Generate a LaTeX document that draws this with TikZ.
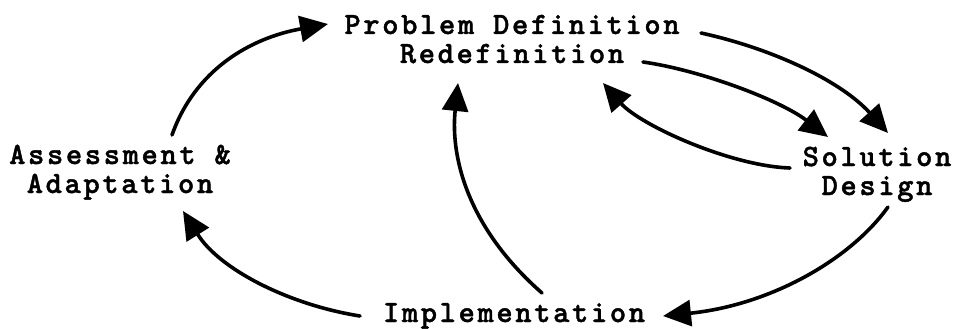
\documentclass[tikz,border=0pt]{standalone}
\usepackage{fontspec}
\usetikzlibrary{arrows.meta,calc}
\newfontfamily\courlike{lmmonolt10-bold.otf}[LetterSpace=8.5,FakeBold=1.4]
\tikzset{
  lbl/.style={align=center, inner sep=0pt, anchor=base,
    font=\fontsize{31}{29}\selectfont\courlike},
  conn/.style={line width=3.6pt, line cap=round,
    -{Triangle[length=28pt,width=26pt]}}
}
\begin{document}
\begin{tikzpicture}[x=1pt,y=-1pt]
\useasboundingbox (0,0) rectangle (958,329);
% base anchor = baseline of the last line
\node[lbl] (pd) at (512,63) {Problem Definition\\Redefinition};
\node[lbl] (aa) at (120,193) {Assessment \&\\Adaptation};
\node[lbl] (sd) at (877,195) {Solution\\Design};
\node[lbl] (im) at (514,322) {Implementation};
% Assessment -> Problem
\draw[conn] ($(aa.base)+(52,-58)$) .. controls +(23,-65) and +(-78,14) .. ($(pd.base)+(-184,-39)$);
% Problem Definition -> Solution
\draw[conn] ($(pd.base)+(189,-30)$) .. controls +(69,15) and +(-48,-53) .. ($(sd.base)+(11,-62)$);
% Redefinition -> Solution
\draw[conn] ($(pd.base)+(131,-1)$) .. controls +(57,8) and +(-48,-37) .. ($(sd.base)+(-49,-58)$);
% Solution -> Redefinition
\draw[conn] ($(sd.base)+(-87,-27)$) .. controls +(-60,-2) and +(37,42) .. ($(pd.base)+(91,20)$);
% Design -> Implementation
\draw[conn] ($(sd.base)+(11,12)$) .. controls +(-38,53) and +(107,-11) .. ($(im.base)+(149,-6)$);
% Implementation -> Redefinition
\draw[conn] ($(im.base)+(28,-29)$) .. controls +(-72,-63) and +(-8,77) .. ($(pd.base)+(-54,20)$);
% Implementation -> Adaptation
\draw[conn] ($(im.base)+(-154,-6)$) .. controls +(-70,-11) and +(37,59) .. ($(aa.base)+(63,18)$);
\end{tikzpicture}
\end{document}
